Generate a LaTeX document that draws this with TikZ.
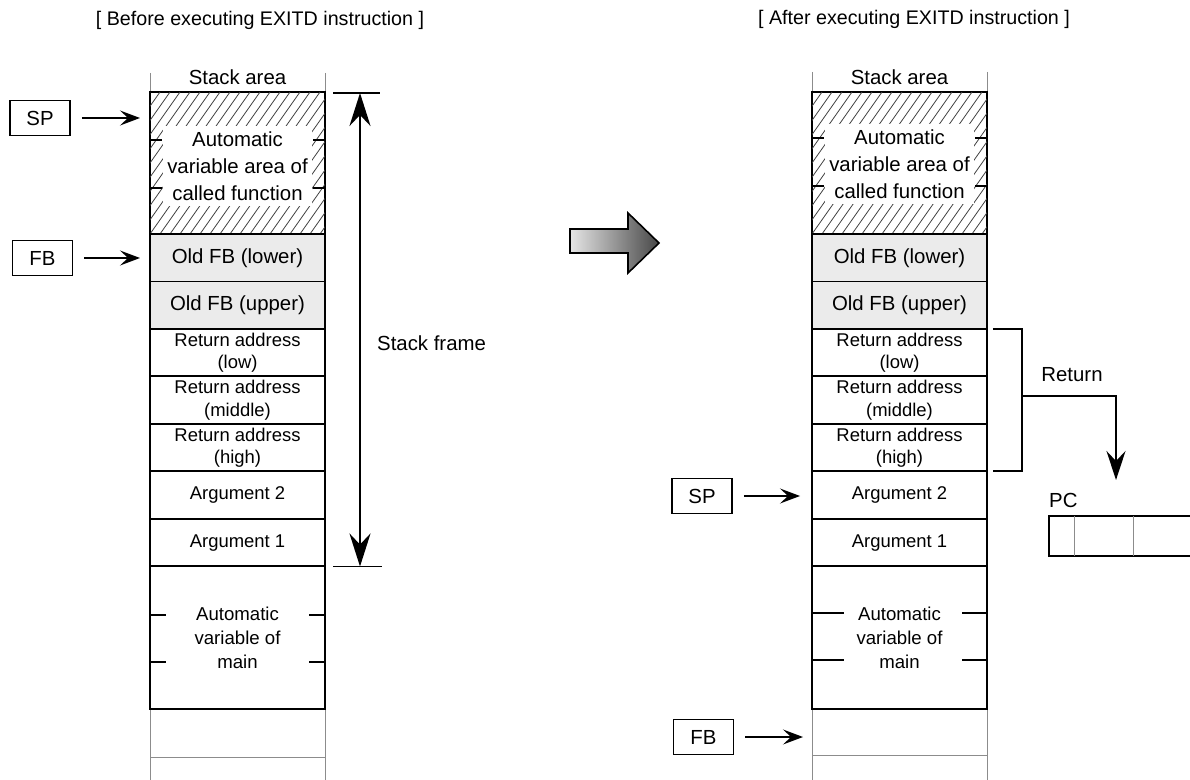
\documentclass[tikz,border=0pt]{standalone}
\usepackage{fontspec}
\setmainfont{Liberation Sans}
\usepackage{tikz}
\usetikzlibrary{arrows.meta,positioning,calc}
\definecolor{fbgray}{HTML}{EBEBEB}
\definecolor{guidegray}{HTML}{8C8C8C}
\newcommand\stkfont{\fontsize{11.6}{15.4}\selectfont}
\newcommand\stksmall{\fontsize{10.5}{13}\selectfont}
\newcommand\stkmain{\fontsize{10.6}{13.7}\selectfont}
\newcommand\stkhead{\fontsize{11.2}{13}\selectfont}
\tikzset{
  cellbox/.style={
    draw,
    line width=1.1pt,
    minimum width=3.5cm,
    minimum height=0.95cm,
    inner sep=0pt,
    outer sep=0pt,
    align=center,
    font=\stksmall
  },
  oldfbbox/.style={cellbox, fill=fbgray, font=\stkfont},
  hatchbox/.style={cellbox, minimum height=2.84cm},
  mainbox/.style={cellbox, minimum height=2.85cm, font=\stkmain},
  holebox/.style={fill=white, inner sep=0pt, minimum width=3.0cm, minimum height=1.6cm, align=center, font=\stkfont},
  regbox/.style={draw, line width=0.9pt, minimum width=1.2cm, minimum height=0.7cm, inner sep=0pt, font=\stkfont},
  ptrarrow/.style={-{Stealth[length=4mm, width=3mm, inset=1.6mm]}, line width=0.9pt, shorten <=0.22cm},
  framearrow/.style={{Stealth[length=6.6mm, width=4.2mm, inset=2.2mm]}-{Stealth[length=6.6mm, width=4.2mm, inset=2.2mm]}, line width=1.5pt},
  retarrow/.style={-{Stealth[length=5.8mm, width=3.8mm, inset=2mm]}, line width=1.2pt},
  barline/.style={line width=1.1pt},
  tickline/.style={line width=1.1pt},
  cellline/.style={line width=0.9pt},
  hatchline/.style={draw=black!75, line width=0.45pt},
  guideline/.style={draw=guidegray, line width=0.5pt}
}

\begin{document}
\begin{tikzpicture}[x=0.02cm, y=-0.02cm, node distance=0pt]
\useasboundingbox (0,0) rectangle (1190,780);

% headings
\node[font=\stkhead] (lhead) at (260,20) {[ Before executing EXITD instruction ]};
\node[font=\stkhead] (rhead) at (914,19) {[ After executing EXITD instruction ]};

% left stack
\draw[guideline] (150,73) -- (150,780);
\draw[guideline] (325,73) -- (325,780);
\draw[guideline] (150,757) -- (325,757);
\node[hatchbox] (lauto) at (237.5,163) {};
\begin{scope}
  \clip (lauto.south west) rectangle (lauto.north east);
  \foreach \s in {-110,-100,...,180}
    \draw[hatchline] ($(lauto.south west)+(\s,0)$) -- ++(100,-142);
\end{scope}
\node[holebox, yshift=-0.06cm] (lautotxt) at (lauto) {Automatic\\variable area of\\called function};
\draw[tickline] ($(lauto.west)+(0,-23)$) -- ++(12,0);
\draw[tickline] ($(lauto.west)+(0,25)$) -- ++(12,0);
\draw[tickline] ($(lauto.east)+(0,-23)$) -- ++(-12,0);
\draw[tickline] ($(lauto.east)+(0,25)$) -- ++(-12,0);
\node[font=\stkfont, above=0.3mm of lauto] (larea) {Stack area};
\node[oldfbbox, below=of lauto] (lfbl) {Old FB (lower)};
\node[oldfbbox, below=of lfbl] (lfbu) {Old FB (upper)};
\node[cellbox, below=of lfbu] (lral) {Return address\\(low)};
\node[cellbox, below=of lral] (lram) {Return address\\(middle)};
\node[cellbox, below=of lram] (lrah) {Return address\\(high)};
\node[cellbox, below=of lrah] (larg2) {Argument 2};
\node[cellbox, below=of larg2] (larg1) {Argument 1};
\node[mainbox, below=of larg1] (lmain) {Automatic\\variable of\\main};
\draw[tickline] ($(lmain.west)+(0,-23)$) -- ++(16,0);
\draw[tickline] ($(lmain.west)+(0,24)$) -- ++(16,0);
\draw[tickline] ($(lmain.east)+(0,-23)$) -- ++(-16,0);
\draw[tickline] ($(lmain.east)+(0,24)$) -- ++(-16,0);

\node[regbox] (lsp) at (40,118) {SP};
\node[regbox] (lfb) at (42.5,258) {FB};
\coordinate (lsptip) at (140,118);
\coordinate (lfbtip) at (140,258);
\draw[ptrarrow] (lsp) -- (lsptip);
\draw[ptrarrow] (lfb) -- (lfbtip);

% stack frame
\coordinate (sftop) at (360,93);
\coordinate (sfbot) at (360,566.5);
\draw[framearrow] (sftop) -- (sfbot);
\draw[barline] ($(sftop)+(-27,0)$) -- ++(47,0);
\draw[barline] ($(sfbot)+(-27,0)$) -- ++(49,0);
\node[font=\stkfont, anchor=west] (sflabel) at (371,343) {Stack frame};

% transition
\shade[left color=black!10, right color=black!72, draw=black, line width=0.9pt]
  (570,229) -- (628,229) -- (628,213) -- (659,243) -- (628,273) -- (628,253) -- (570,253) -- cycle;

% right stack
\draw[guideline] (812,72) -- (812,780);
\draw[guideline] (987,72) -- (987,780);
\draw[guideline] (812,755) -- (987,755);
\node[hatchbox] (rauto) at (899.5,163) {};
\begin{scope}
  \clip (rauto.south west) rectangle (rauto.north east);
  \foreach \s in {-110,-100,...,180}
    \draw[hatchline] ($(rauto.south west)+(\s,0)$) -- ++(100,-142);
\end{scope}
\node[holebox, yshift=-0.02cm] (rautotxt) at (rauto) {Automatic\\variable area of\\called function};
\draw[tickline] ($(rauto.west)+(0,-25)$) -- ++(12,0);
\draw[tickline] ($(rauto.west)+(0,23)$) -- ++(12,0);
\draw[tickline] ($(rauto.east)+(0,-25)$) -- ++(-12,0);
\draw[tickline] ($(rauto.east)+(0,23)$) -- ++(-12,0);
\node[font=\stkfont, above=0.3mm of rauto] (rarea) {Stack area};
\node[oldfbbox, below=of rauto] (rfbl) {Old FB (lower)};
\node[oldfbbox, below=of rfbl] (rfbu) {Old FB (upper)};
\node[cellbox, below=of rfbu] (rral) {Return address\\(low)};
\node[cellbox, below=of rral] (rram) {Return address\\(middle)};
\node[cellbox, below=of rram] (rrah) {Return address\\(high)};
\node[cellbox, below=of rrah] (rarg2) {Argument 2};
\node[cellbox, below=of rarg2] (rarg1) {Argument 1};
\node[mainbox, below=of rarg1] (rmain) {Automatic\\variable of\\main};
\draw[tickline] ($(rmain.west)+(0,-25)$) -- ++(32,0);
\draw[tickline] ($(rmain.west)+(0,22)$) -- ++(32,0);
\draw[tickline] ($(rmain.east)+(0,-25)$) -- ++(-25,0);
\draw[tickline] ($(rmain.east)+(0,22)$) -- ++(-25,0);

\node[regbox] (rsp) at (702,496) {SP};
\node[regbox] (rfb) at (703.5,737) {FB};
\coordinate (rsptip) at (800,496);
\coordinate (rfbtip) at (803,737);
\draw[ptrarrow] (rsp) -- (rsptip);
\draw[ptrarrow] (rfb) -- (rfbtip);

% return to PC
\coordinate (brmid) at (1022,396);
\coordinate (rettip) at (1116,480);
\draw[barline] ([xshift=0.12cm]rral.north east) -| ([xshift=0.7cm]rrah.south east) -- ([xshift=0.12cm]rrah.south east);
\draw[retarrow] (brmid) -| (rettip);
\node[font=\stkfont] (retlabel) at (1072,375) {Return};
\node[font=\stkfont, anchor=west] (pclabel) at (1043,500) {PC};
\node[minimum width=2.82cm, minimum height=0.8cm, inner sep=0pt, outer sep=0pt] (pcreg) at (1119.5,536) {};
\draw[cellline] (pcreg.north east) -- (pcreg.north west) -- (pcreg.south west) -- (pcreg.south east);
\draw[guideline] ($(pcreg.north west)+(25,0)$) -- ($(pcreg.south west)+(25,0)$);
\draw[guideline] ($(pcreg.north west)+(84,0)$) -- ($(pcreg.south west)+(84,0)$);
\end{tikzpicture}
\end{document}
